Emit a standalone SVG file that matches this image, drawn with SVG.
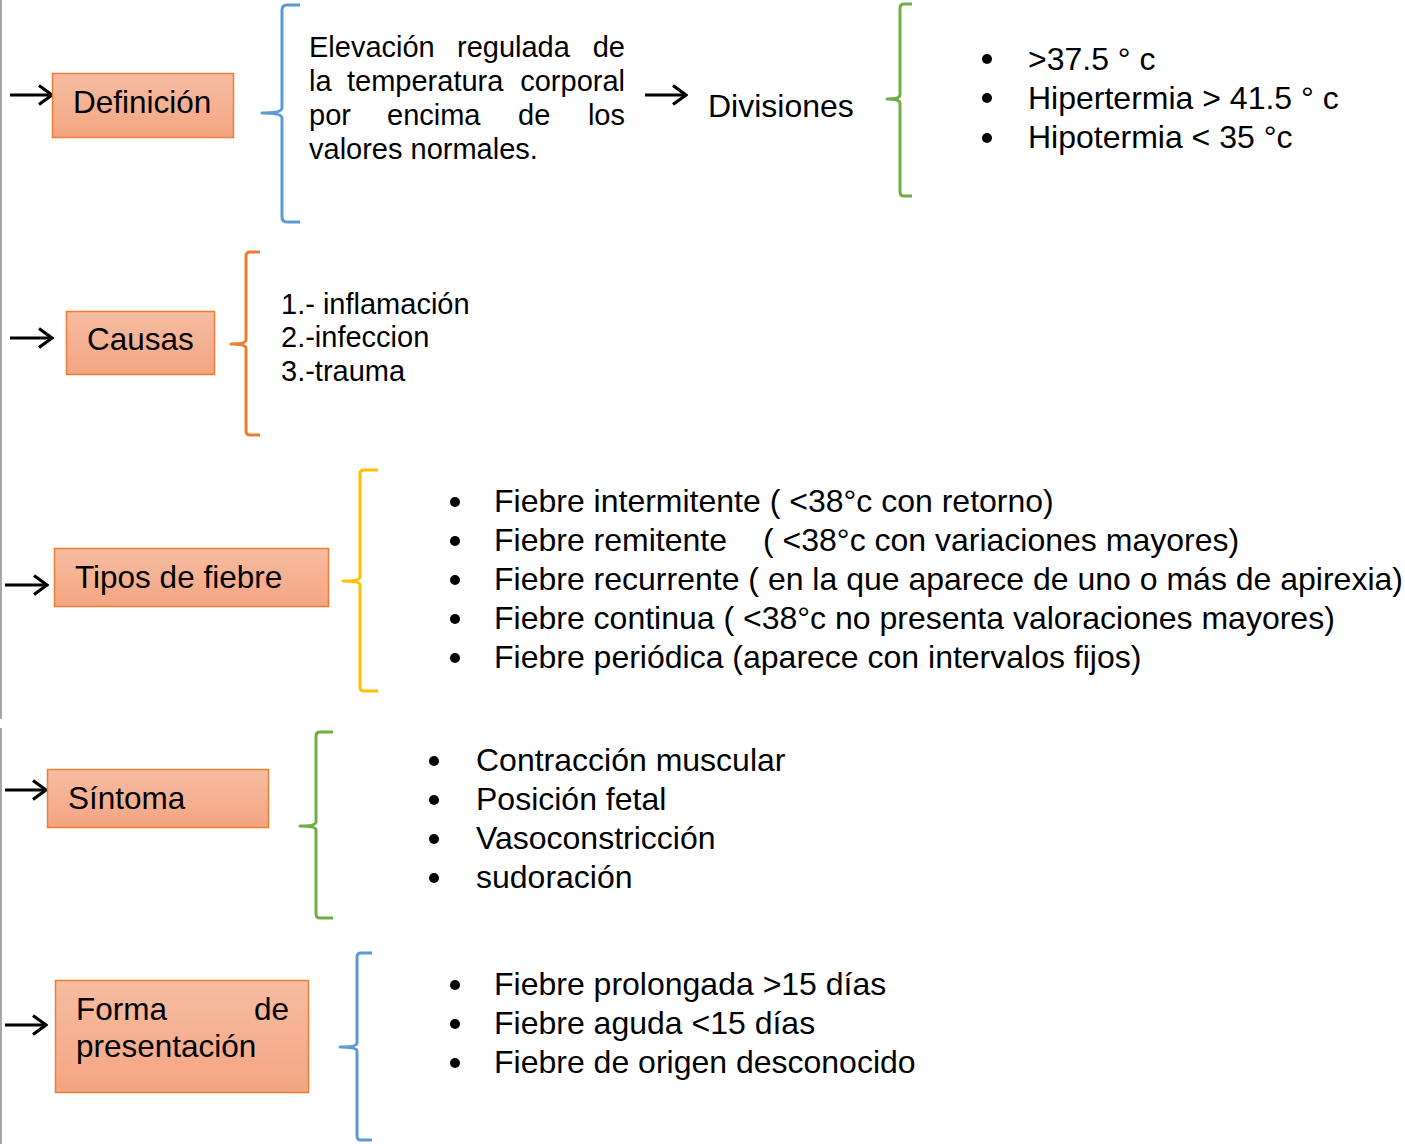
<svg xmlns="http://www.w3.org/2000/svg" width="1405" height="1144" viewBox="0 0 1405 1144">
<defs>
<linearGradient id="boxg" x1="0" y1="0" x2="0" y2="1">
<stop offset="0" stop-color="#f6bca2"/>
<stop offset="1" stop-color="#f4a582"/>
</linearGradient>
<marker id="ah" viewBox="0 0 16 22" refX="14" refY="11" markerWidth="16" markerHeight="22" markerUnits="userSpaceOnUse" orient="auto">
<path d="M1,1.5 L14,11 L1,20.5" fill="none" stroke="#000" stroke-width="3.2"/>
</marker>
<style>
text{font-family:"Liberation Sans",Arial,sans-serif;fill:#000;}
.box{fill:url(#boxg);stroke:#ed7d31;stroke-width:1.5;}
.lbl{font-size:31.5px;}
.t32{font-size:32px;}
.t29{font-size:29px;}
.t28{font-size:29px;}
.arr{stroke:#000;stroke-width:3;fill:none;marker-end:url(#ah);}
.br{fill:none;stroke-width:3;stroke-linejoin:round;}
.blue{stroke:#5b9bd5;}
.green{stroke:#70ad47;}
.orange{stroke:#ed7d31;}
.yellow{stroke:#ffc000;}
.dot{fill:#000;}
.edge{stroke:#a6a6a6;stroke-width:2;}
</style>
</defs>
<rect x="0" y="0" width="1405" height="1144" fill="#fff"/>
<line class="edge" x1="1" y1="0" x2="1" y2="719"/>
<line class="edge" x1="1" y1="728" x2="1" y2="1144"/>

<g id="connectors">
<line class="arr" x1="10" y1="95" x2="52" y2="95"/>
<line class="arr" x1="645" y1="95" x2="686" y2="95"/>
<line class="arr" x1="10" y1="338" x2="52" y2="338"/>
<line class="arr" x1="5" y1="585" x2="47" y2="585"/>
<line class="arr" x1="5" y1="790" x2="46" y2="790"/>
<line class="arr" x1="5" y1="1025" x2="46" y2="1025"/>
<path class="br blue" d="M300,5 H287 Q282,5 282,10 V108 Q282,113 262,113 Q282,113 282,118 V217 Q282,222 287,222 H300"/>
<path class="br green" d="M912,4 H904 Q900,4 900,8 V95 Q900,99 887,99 Q900,99 900,103 V192 Q900,196 904,196 H912"/>
<path class="br orange" d="M260,252 H250 Q246,252 246,256 V340 Q246,344 231,344 Q246,344 246,348 V431 Q246,435 250,435 H260"/>
<path class="br yellow" d="M378,470 H364 Q360,470 360,474 V577 Q360,581 343,581 Q360,581 360,585 V687 Q360,691 364,691 H378"/>
<path class="br green" d="M333,732 H320 Q316,732 316,736 V822 Q316,826 300,826 Q316,826 316,830 V914 Q316,918 320,918 H333"/>
<path class="br blue" d="M372,953 H361 Q357,953 357,957 V1043 Q357,1047 340,1047 Q357,1047 357,1051 V1136 Q357,1140 361,1140 H372"/>
</g>

<g id="definicion">
<rect class="box" x="52.5" y="73.5" width="181" height="64"/>
<text class="lbl" x="73" y="113">Definición</text>
</g>

<g id="definicion-texto">
<text class="t29" x="309" y="57">Elevación</text>
<text class="t29" x="457" y="57">regulada</text>
<text class="t29" x="625" y="57" text-anchor="end">de</text>
<text class="t29" x="309" y="91">la</text>
<text class="t29" x="347" y="91">temperatura</text>
<text class="t29" x="625" y="91" text-anchor="end">corporal</text>
<text class="t29" x="309" y="125">por</text>
<text class="t29" x="387" y="125">encima</text>
<text class="t29" x="518" y="125">de</text>
<text class="t29" x="625" y="125" text-anchor="end">los</text>
<text class="t29" x="309" y="159">valores normales.</text>
</g>

<g id="divisiones">
<text class="t32" x="708" y="117">Divisiones</text>
</g>

<g id="divisiones-lista">
<circle class="dot" cx="987" cy="59" r="5"/>
<circle class="dot" cx="987" cy="98" r="5"/>
<circle class="dot" cx="987" cy="138" r="5"/>
<text class="t32" x="1028" y="70">&gt;37.5 ° c</text>
<text class="t32" x="1028" y="109">Hipertermia &gt; 41.5 ° c</text>
<text class="t32" x="1028" y="148">Hipotermia &lt; 35 °c</text>
</g>

<g id="causas">
<rect class="box" x="66.5" y="311.5" width="148" height="63"/>
<text class="lbl" x="87" y="350">Causas</text>
</g>

<g id="causas-lista">
<text class="t28" x="281" y="314">1.- inflamación</text>
<text class="t28" x="281" y="347">2.-infeccion</text>
<text class="t28" x="281" y="381">3.-trauma</text>
</g>

<g id="tipos">
<rect class="box" x="54.5" y="548.5" width="274" height="58"/>
<text class="lbl" x="75" y="588">Tipos de fiebre</text>
</g>

<g id="tipos-lista">
<circle class="dot" cx="455" cy="502" r="5"/>
<circle class="dot" cx="455" cy="541" r="5"/>
<circle class="dot" cx="455" cy="580" r="5"/>
<circle class="dot" cx="455" cy="619" r="5"/>
<circle class="dot" cx="455" cy="658" r="5"/>
<text class="t32" x="494" y="512">Fiebre intermitente ( &lt;38°c con retorno)</text>
<text class="t32" x="494" y="551">Fiebre remitente<tspan x="763">( &lt;38°c con variaciones mayores)</tspan></text>
<text class="t32" x="494" y="590">Fiebre recurrente ( en la que aparece de uno o más de apirexia)</text>
<text class="t32" x="494" y="629">Fiebre continua ( &lt;38°c no presenta valoraciones mayores)</text>
<text class="t32" x="494" y="668">Fiebre periódica (aparece con intervalos fijos)</text>
</g>

<g id="sintoma">
<rect class="box" x="47.5" y="769.5" width="221" height="58"/>
<text class="lbl" x="68" y="809">Síntoma</text>
</g>

<g id="sintoma-lista">
<circle class="dot" cx="434" cy="761" r="5"/>
<circle class="dot" cx="434" cy="800" r="5"/>
<circle class="dot" cx="434" cy="839" r="5"/>
<circle class="dot" cx="434" cy="878" r="5"/>
<text class="t32" x="476" y="771">Contracción muscular</text>
<text class="t32" x="476" y="810">Posición fetal</text>
<text class="t32" x="476" y="849">Vasoconstricción</text>
<text class="t32" x="476" y="888">sudoración</text>
</g>

<g id="forma">
<rect class="box" x="55.5" y="980.5" width="253" height="112"/>
<text class="lbl" x="76" y="1020">Forma</text>
<text class="lbl" x="289" y="1020" text-anchor="end">de</text>
<text class="lbl" x="76" y="1057">presentación</text>
</g>

<g id="forma-lista">
<circle class="dot" cx="455" cy="985" r="5"/>
<circle class="dot" cx="455" cy="1024" r="5"/>
<circle class="dot" cx="455" cy="1063" r="5"/>
<text class="t32" x="494" y="995">Fiebre prolongada &gt;15 días</text>
<text class="t32" x="494" y="1034">Fiebre aguda &lt;15 días</text>
<text class="t32" x="494" y="1073">Fiebre de origen desconocido</text>
</g>
</svg>
